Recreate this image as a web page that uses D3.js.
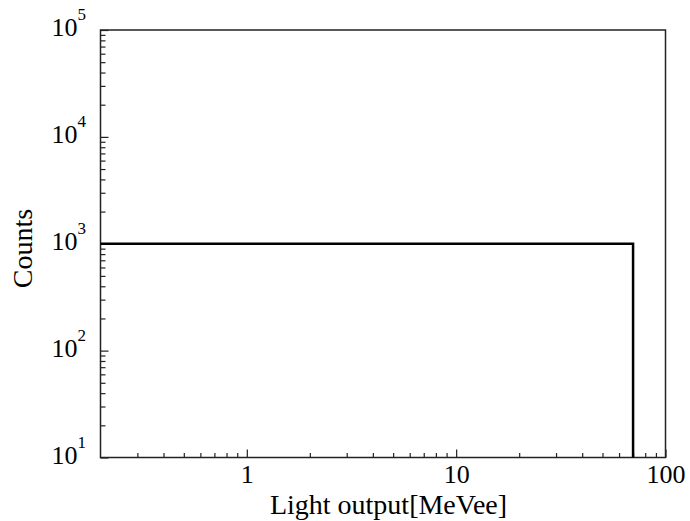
<!DOCTYPE html>
<html>
<head>
<meta charset="utf-8">
<script src="https://cdn.jsdelivr.net/npm/d3@7"></script>
<style>
  html, body { margin: 0; padding: 0; background: #fff; }
  svg { display: block; }
  text { font-family: "Liberation Serif", "Times New Roman", Times, serif; fill: #000; }
</style>
</head>
<body>
<svg id="chart" width="690" height="521"></svg>
<script>
// ---- data ----
const binEdges = [0.2, 70, 100];      // MeVee
const binCounts = [1000, 0];          // counts per bin
const xMajorTicks = [1, 10, 100];
const xTickLabels = ["1", "10", "100"];
const yMajorTicks = [10, 100, 1000, 10000, 100000];
const yTickExponents = ["1", "2", "3", "4", "5"];
const xDomain = [0.2, 100];
const yDomain = [10, 100000];
const xLabel = "Light output[MeVee]";
const yLabel = "Counts";

// ---- layout ----
const svg = d3.select("#chart");
const plot = { left: 100.5, right: 665.5, top: 30, bottom: 457.5 };

const x = d3.scaleLog().domain(xDomain).range([plot.left, plot.right]);
const y = d3.scaleLog().domain(yDomain).range([plot.bottom, plot.top]);

// minor ticks
function minorTicks(domain) {
  const out = [];
  const lo = Math.floor(Math.log10(domain[0]));
  const hi = Math.ceil(Math.log10(domain[1]));
  for (let e = lo; e < hi; e++) {
    for (let m = 2; m <= 9; m++) {
      const v = m * Math.pow(10, e);
      if (v > domain[0] * 1.0001 && v < domain[1] * 0.9999) out.push(v);
    }
  }
  return out;
}

const g = svg.append("g");

// x axis ticks (inward)
g.append("g")
  .attr("transform", `translate(0,${plot.bottom})`)
  .call(d3.axisBottom(x).tickValues(minorTicks(xDomain)).tickSize(-4.5).tickFormat(""))
  .call(s => s.select(".domain").remove());
g.append("g")
  .attr("transform", `translate(0,${plot.bottom})`)
  .call(d3.axisBottom(x).tickValues(xMajorTicks).tickSize(-8).tickPadding(17)
        .tickFormat((d, i) => xTickLabels[i]))
  .call(s => s.select(".domain").remove())
  .call(s => s.selectAll("text").attr("font-size", 26).attr("dy", null)
        .attr("y", 25.8).attr("dominant-baseline", "auto"));

// y axis ticks (inward)
g.append("g")
  .attr("transform", `translate(${plot.left},0)`)
  .call(d3.axisLeft(y).tickValues(minorTicks(yDomain)).tickSize(-5).tickFormat(""))
  .call(s => s.select(".domain").remove());
const yAx = g.append("g")
  .attr("transform", `translate(${plot.left},0)`)
  .call(d3.axisLeft(y).tickValues(yMajorTicks).tickSize(-8).tickFormat(""))
  .call(s => s.select(".domain").remove());
yAx.selectAll(".tick").each(function(d, i) {
  const t = d3.select(this).append("text")
    .attr("x", -14.5).attr("y", 5.8)
    .attr("text-anchor", "end")
    .attr("font-size", 26);
  t.append("tspan").text("10");
  t.append("tspan").attr("font-size", 17).attr("dy", -16).text(yTickExponents[i]);
});

g.selectAll(".tick line").attr("stroke", "#222").attr("stroke-width", 1.2);

// frame
g.append("rect")
  .attr("x", plot.left).attr("y", plot.top)
  .attr("width", plot.right - plot.left).attr("height", plot.bottom - plot.top)
  .attr("fill", "none").attr("stroke", "#222").attr("stroke-width", 1.5);

// histogram step line
const pts = binCounts.map((c, i) => ({ x: binEdges[i], y: Math.max(c, yDomain[0]) }));
const line = d3.line().x(d => x(d.x)).y(d => y(d.y)).curve(d3.curveStepAfter);
g.append("path")
  .datum(pts)
  .attr("d", line)
  .attr("fill", "none")
  .attr("stroke", "#000")
  .attr("stroke-width", 2.5);

// axis labels
svg.append("text")
  .attr("x", 388.5)
  .attr("y", 514)
  .attr("text-anchor", "middle")
  .attr("font-size", 28)
  .text(xLabel);
svg.append("text")
  .attr("transform", `translate(31.5,248.5) rotate(-90)`)
  .attr("text-anchor", "middle")
  .attr("font-size", 28)
  .text(yLabel);
</script>
</body>
</html>
